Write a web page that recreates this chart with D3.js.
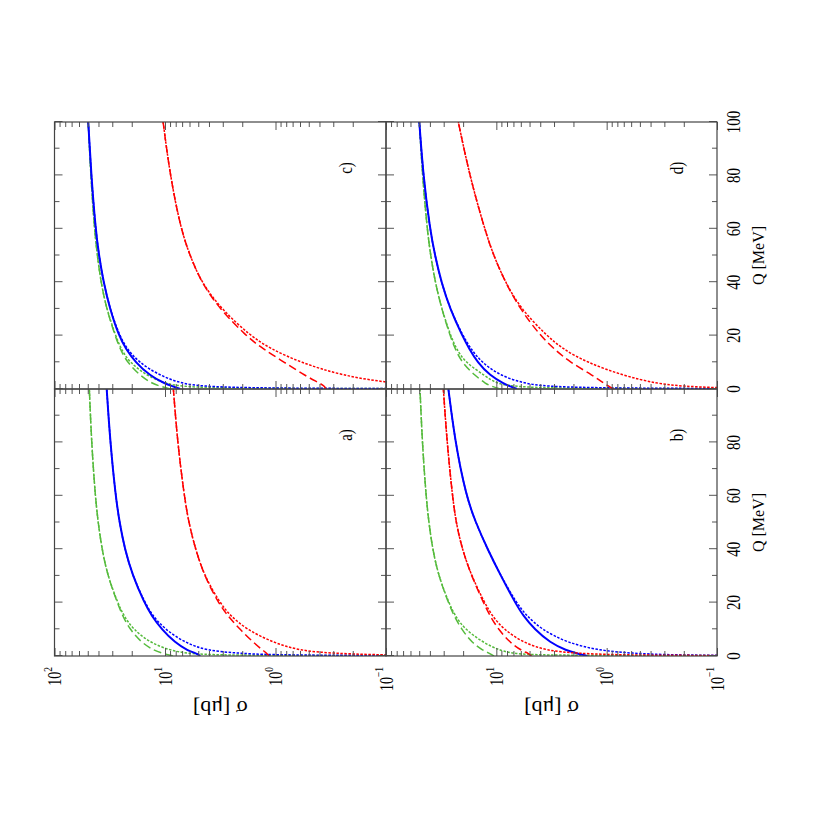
<!DOCTYPE html>
<html><head><meta charset="utf-8">
<script src="https://cdn.jsdelivr.net/npm/d3@7"></script>
<style>body{margin:0;background:#fff}svg{display:block}</style>
</head><body>
<svg id="c" width="817" height="817"></svg>
<script>
// ---- data (Q in MeV, sigma in microbarn) ----
const qMain = [0, 1, 2, 5, 10, 15, 20, 30, 40, 50, 60, 80, 100];
const qDot  = [0, 0.2, 0.5, 1, 2, 5, 10, 15, 20, 30, 40, 50, 60, 80, 100];

const aGreenDash = [8.5, 10.5, 12.5, 16.3, 20.8, 24.2, 27, 33, 37.2, 40.3, 42.8, 46.2, 48.4];
const aGreenDot  = [0.001, 1.5, 4, 6.3, 8.8, 13.7, 19.4, 23.6, 26.8, 33, 37.2, 40.3, 42.8, 46.2, 48.4];
const aBlueSolid = [4.8, 5.2, 6.2, 8.1, 10.7, 13.2, 15.4, 19.6, 23.1, 25.8, 28.0, 31.3, 33.7];
const aBlueDot   = [0.001, 0.3, 1.2, 2.1, 4.2, 6.6, 10.0, 12.9, 15.2, 19.6, 23.1, 25.8, 28.0, 31.3, 33.7];
const aRedDash   = [1.15, 1.2, 1.29, 1.58, 2.1, 2.7, 3.3, 4.4, 5.3, 6.1, 6.7, 7.7, 8.4];
const aRedDot    = [0.001, 0.05, 0.13, 0.30, 0.60, 1.05, 1.83, 2.55, 3.2, 4.4, 5.3, 6.1, 6.7, 7.7, 8.4];

const bGreenDash = [10.5, 11.5, 13.1, 16.7, 20.6, 24.2, 27.2, 33.4, 37.8, 40.9, 43.4, 46.9, 49.2];
const bGreenDot  = [0.001, 2, 5, 7.0, 9.25, 13.1, 19.3, 23.6, 27, 33.4, 37.8, 40.9, 43.4, 46.9, 49.2];
const bBlueSolid = [1.5, 1.87, 2.3, 3.26, 4.5, 5.7, 6.76, 9.1, 12.0, 15.4, 18.8, 23.6, 27.2];
const bBlueDot   = [0.001, 0.12, 0.3, 0.57, 1.15, 2.3, 3.9, 5.3, 6.6, 9.1, 12.0, 15.4, 18.8, 23.6, 27.2];
const bRedDash   = [4.8, 5.1, 5.9, 7.5, 9.6, 11.4, 13.1, 16.8, 20.4, 23.2, 25.0, 28.0, 30.2];
const bRedDot    = [0.001, 0.3, 0.9, 1.87, 3.5, 5.7, 8.6, 10.9, 12.8, 16.8, 20.4, 23.2, 25.0, 28.0, 30.2];

const cGreenDash = [9.0, 11, 13, 16.8, 22, 25.5, 28.3, 33.8, 38, 41, 43.5, 47, 49.5];
const cGreenDot  = [0.001, 1.5, 4, 7, 10, 14.6, 21, 25, 28, 33.8, 38, 41, 43.5, 47, 49.5];
const cBlueSolid = [7.3, 8.5, 10, 13.7, 18.5, 22.6, 26.2, 31.5, 36, 39.6, 42.5, 46.5, 49.5];
const cBlueDot   = [0.001, 0.5, 2, 4.5, 7, 11.1, 17.3, 22, 25.8, 31.5, 36, 39.6, 42.5, 46.5, 49.5];
const cRedDash   = [0.35, 0.36, 0.39, 0.54, 0.83, 1.3, 1.86, 3.2, 4.7, 5.95, 7.2, 9.0, 10.4];
const cRedDot    = [0.0001, 0.003, 0.01, 0.03, 0.085, 0.25, 0.6, 1.1, 1.7, 3.1, 4.7, 5.95, 7.2, 9.0, 10.4];

const dGreenDash = [9.3, 11, 12.5, 15.6, 20.6, 23.6, 26.3, 31.3, 35.8, 39.4, 42.4, 46.7, 49.9];
const dGreenDot  = [0.001, 1.5, 4, 7, 10, 12.7, 19.2, 23, 26, 31.3, 35.8, 39.4, 42.4, 46.7, 49.9];
const dBlueSolid = [6.5, 7.5, 8.5, 11.4, 14.8, 17.6, 20.4, 26.3, 31.5, 36, 40, 46, 49.9];
const dBlueDot   = [0.001, 0.3, 1.5, 3.5, 5.5, 9.26, 13.6, 17.0, 20.1, 26.3, 31.5, 36, 40, 46, 49.9];
const dRedDash   = [0.87, 0.95, 1.05, 1.32, 2.15, 3.0, 4.0, 6.1, 8.3, 10.6, 12.8, 17.5, 22.1];
const dRedDot    = [0.001, 0.05, 0.1, 0.2, 0.35, 0.706, 1.52, 2.5, 3.5, 6.0, 8.3, 10.6, 12.8, 17.5, 22.1];

const qTickLabels = [0, 20, 40, 60, 80, 100];
const sigmaTicks = [100, 10, 1, 0.1];
const sigmaExp = ["2", "1", "0", "\u22121"];
const panelLabels = ["a)", "b)", "c)", "d)"];
const xTitle = "Q [MeV]";
const yTitle = "\u03c3 [\u03bcb]";

// ---- layout (drawn in the unrotated frame, then the whole figure is turned 90deg) ----
const GREEN = "#55bb3c", BLUE = "#0000ff", RED = "#ff0000";
const FONT = "'Liberation Serif','DejaVu Serif',serif";
const colX = [[161, 428], [428, 695]];
const rowY = [[54.5, 386], [386, 717]];

const panels = [
  {col:0,row:0,label:panelLabels[0],s:[[aGreenDash,aGreenDot],[aBlueSolid,aBlueDot],[aRedDash,aRedDot]]},
  {col:0,row:1,label:panelLabels[1],s:[[bGreenDash,bGreenDot],[bBlueSolid,bBlueDot],[bRedDash,bRedDot]]},
  {col:1,row:0,label:panelLabels[2],s:[[cGreenDash,cGreenDot],[cBlueSolid,cBlueDot],[cRedDash,cRedDot]]},
  {col:1,row:1,label:panelLabels[3],s:[[dGreenDash,dGreenDot],[dBlueSolid,dBlueDot],[dRedDash,dRedDot]]}
];
const colors = [GREEN, BLUE, RED];

const svg = d3.select("#c");
const root = svg.append("g").attr("transform", "translate(0,817) rotate(-90)");
const defs = svg.append("defs");

const minorLog = [];
[0.1, 1, 10].forEach(d => { for (let k = 2; k <= 9; k++) minorLog.push(+(d*k).toPrecision(3)); });

panels.forEach((p, i) => {
  const [x0, x1] = colX[p.col], [y0, y1] = rowY[p.row];
  const xs = d3.scaleLinear().domain([0, 100]).range([x0, x1]);
  const ys = d3.scaleLog().domain([0.1, 100]).range([y1, y0]);
  const g = root.append("g");
  const cid = "clip" + i;
  defs.append("clipPath").attr("id", cid).append("rect")
    .attr("x", x0).attr("y", y0).attr("width", x1 - x0).attr("height", y1 - y0);

  const cg = g.append("g").attr("clip-path", `url(#${cid})`);
  const line = d3.line().x(d => xs(d[0])).y(d => ys(d[1])).curve(d3.curveBasis);
  p.s.forEach((pair, k) => {
    const main = qMain.map((q, j) => [q, pair[0][j]]);
    const dot = qDot.map((q, j) => [q, pair[1][j]]);
    const col = colors[k];
    if (k === 1) {
      cg.append("path").attr("d", line(dot)).attr("fill", "none").attr("stroke", col)
        .attr("stroke-width", 1.5).attr("stroke-dasharray", "2.5,1.5");
      cg.append("path").attr("d", line(main)).attr("fill", "none").attr("stroke", col)
        .attr("stroke-width", 2);
    } else {
      cg.append("path").attr("d", line(main)).attr("fill", "none").attr("stroke", col)
        .attr("stroke-width", 1.5).attr("stroke-dasharray", "8,4");
      cg.append("path").attr("d", line(dot)).attr("fill", "none").attr("stroke", col)
        .attr("stroke-width", 1.5).attr("stroke-dasharray", "2.5,1.5");
    }
  });

  // ticks via d3 axes (inward, all four sides)
  const qMajor = d3.range(0, 101, 20), qMinor = d3.range(10, 100, 20);
  const mk = (ax, sel) => { sel.call(ax); sel.select(".domain").remove();
    sel.selectAll("line").attr("stroke", "#555"); sel.selectAll("text").remove(); };
  mk(d3.axisBottom(xs).tickValues(qMajor).tickSize(-8), g.append("g").attr("transform", `translate(0,${y1})`));
  mk(d3.axisBottom(xs).tickValues(qMinor).tickSize(-5), g.append("g").attr("transform", `translate(0,${y1})`));
  mk(d3.axisTop(xs).tickValues(qMajor).tickSize(-8), g.append("g").attr("transform", `translate(0,${y0})`));
  mk(d3.axisTop(xs).tickValues(qMinor).tickSize(-5), g.append("g").attr("transform", `translate(0,${y0})`));
  mk(d3.axisLeft(ys).tickValues(sigmaTicks).tickSize(-8), g.append("g").attr("transform", `translate(${x0},0)`));
  mk(d3.axisLeft(ys).tickValues(minorLog).tickSize(-5), g.append("g").attr("transform", `translate(${x0},0)`));
  mk(d3.axisRight(ys).tickValues(sigmaTicks).tickSize(-8), g.append("g").attr("transform", `translate(${x1},0)`));
  mk(d3.axisRight(ys).tickValues(minorLog).tickSize(-5), g.append("g").attr("transform", `translate(${x1},0)`));

  g.append("rect").attr("x", x0).attr("y", y0).attr("width", x1 - x0).attr("height", y1 - y0)
    .attr("fill", "none").attr("stroke", "#444").attr("stroke-width", 1.2);

  // panel label
  g.append("text").attr("transform", `translate(${x1 - 46},${y1 - 34}) scale(1,1.2)`)
    .attr("text-anchor", "middle").attr("font-family", FONT).attr("font-size", 15)
    .text(p.label);

  // Q tick labels (bottom row only)
  if (p.row === 1) {
    qTickLabels.filter(q => !(p.col === 0 && q === 100)).forEach(q => {
      g.append("text").attr("transform", `translate(${xs(q)},${y1 + 23}) scale(1,1.3)`)
        .attr("text-anchor", "middle").attr("font-family", FONT).attr("font-size", 15).text(q);
    });
    g.append("text").attr("transform", `translate(${(x0 + x1) / 2},${y1 + 47}) scale(1,1.1)`)
      .attr("text-anchor", "middle").attr("font-family", FONT).attr("font-size", 16).text(xTitle);
  }
  // sigma tick labels (left column only)
  if (p.col === 0) {
    sigmaTicks.forEach((v, j) => {
      if (p.row === 1 && v === 100) return;
      const t = g.append("text").attr("transform", `translate(150,${ys(v)}) scale(1,1.3)`)
        .attr("text-anchor", "end").attr("font-family", FONT).attr("font-size", 14).attr("y", 5);
      t.append("tspan").text("10");
      t.append("tspan").attr("font-size", 9.5).attr("dy", -7).text(sigmaExp[j]);
    });
    g.append("text").attr("transform", `translate(116,${(y0 + y1) / 2}) rotate(-90)`)
      .attr("text-anchor", "middle").attr("font-family", FONT).attr("font-size", 22).text(yTitle);
  }
});
</script>
</body></html>
